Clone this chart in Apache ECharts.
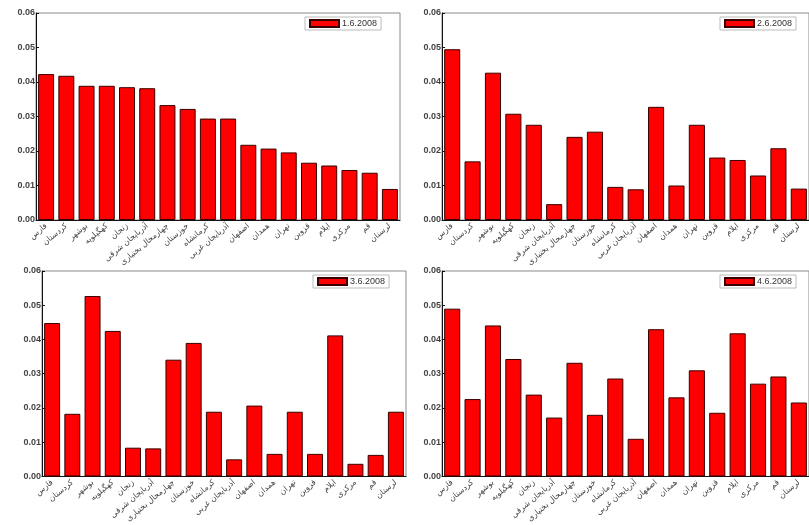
<!DOCTYPE html>
<html>
<head>
<meta charset="utf-8">
<script src="https://cdn.jsdelivr.net/npm/echarts@6/dist/echarts.min.js"></script>
<style>
    html, body {margin: 0; padding: 0; background: #fff;}
    #chart {width: 809px; height: 525px;}
</style>
</head>
<body>
<div id="chart"></div>
<script>
/*---------------------------------------- 数据 ---------------------------------------------*/
var provinces = ['فارس', 'کردستان', 'بوشهر', 'کهگیلویه', 'زنجان', 'آذربایجان شرقی',
    'چهارمحال بختیاری', 'خوزستان', 'کرمانشاه', 'آذربایجان غربی', 'اصفهان', 'همدان',
    'تهران', 'قزوین', 'ایلام', 'مرکزی', 'قم', 'لرستان'];
var dates = ['1.6.2008', '2.6.2008', '3.6.2008', '4.6.2008'];

var day1 = [0.0423, 0.0418, 0.0389, 0.0389, 0.0385, 0.0382, 0.0333, 0.0322, 0.0294,
    0.0294, 0.0218, 0.0207, 0.0196, 0.0166, 0.0158, 0.0145, 0.0137, 0.0090];
var day2 = [0.0495, 0.0170, 0.0427, 0.0308, 0.0276, 0.0046, 0.0241, 0.0256, 0.0096,
    0.0089, 0.0328, 0.0100, 0.0276, 0.0181, 0.0174, 0.0129, 0.0208, 0.0091];
var day3 = [0.0448, 0.0183, 0.0527, 0.0425, 0.0084, 0.0082, 0.0341, 0.0390, 0.0189,
    0.0050, 0.0207, 0.0066, 0.0189, 0.0066, 0.0412, 0.0037, 0.0063, 0.0189];
var day4 = [0.0490, 0.0226, 0.0441, 0.0343, 0.0239, 0.0172, 0.0332, 0.0180, 0.0286,
    0.0110, 0.0430, 0.0231, 0.0310, 0.0186, 0.0418, 0.0271, 0.0292, 0.0216];
var allDays = [day1, day2, day3, day4];

/*---------------------------------------- 布局 ---------------------------------------------*/
// left, top, right, bottom of each plot area
var panels = [
    {left: 36, top: 13, right: 409, bottom: 305, legendLeft: 305, legendTop: 17},
    {left: 442, top: 13, right: -6, bottom: 305, legendLeft: 720, legendTop: 17},
    {left: 42, top: 271, right: 403, bottom: 46, legendLeft: 313, legendTop: 275},
    {left: 442, top: 271, right: -7, bottom: 46, legendLeft: 720, legendTop: 275}
];

var grids = [], xAxes = [], yAxes = [], legends = [], seriesList = [];

for (var i = 0; i < 4; i++) {
    var p = panels[i];
    grids.push({
        left: p.left, top: p.top, right: p.right, bottom: p.bottom,
        show: true,
        borderColor: '#8a8a8a',
        borderWidth: 1
    });
    xAxes.push({
        gridIndex: i,
        type: 'category',
        data: provinces,
        axisLine: {lineStyle: {color: '#111', width: 1}},
        axisTick: {show: false},
        axisLabel: {
            interval: 0,
            rotate: 40,
            margin: 5,
            fontSize: 8,
            color: '#444',
            fontFamily: 'DejaVu Sans'
        }
    });
    yAxes.push({
        gridIndex: i,
        type: 'value',
        min: 0,
        max: 0.06,
        interval: 0.01,
        splitLine: {show: false},
        axisLine: {show: true, lineStyle: {color: '#111', width: 1}},
        axisTick: {show: true, inside: true, length: 3, lineStyle: {color: '#111'}},
        axisLabel: {
            margin: 1,
            fontSize: 9,
            fontWeight: 'bold',
            color: '#444',
            fontFamily: 'Liberation Sans',
            formatter: function (v) {
                return v.toFixed(2);
            }
        }
    });
    legends.push({
        data: [dates[i]],
        left: p.legendLeft,
        top: p.legendTop,
        orient: 'horizontal',
        icon: 'rect',
        itemWidth: 29,
        itemHeight: 7,
        itemGap: 2,
        padding: [2, 4, 2, 4],
        borderColor: '#bbb',
        borderWidth: 1,
        selectedMode: false,
        textStyle: {fontSize: 9, color: '#333', fontFamily: 'Liberation Sans', padding: [0, 0, 0, -2]}
    });
    seriesList.push({
        name: dates[i],
        type: 'bar',
        xAxisIndex: i,
        yAxisIndex: i,
        barCategoryGap: '21%',
        data: allDays[i],
        itemStyle: {color: '#ff0000', borderColor: '#3a0000', borderWidth: 1},
        animation: false
    });
}

var chart = echarts.init(document.getElementById('chart'));
chart.setOption({
    backgroundColor: '#fff',
    animation: false,
    grid: grids,
    xAxis: xAxes,
    yAxis: yAxes,
    legend: legends,
    series: seriesList
});
</script>
</body>
</html>
